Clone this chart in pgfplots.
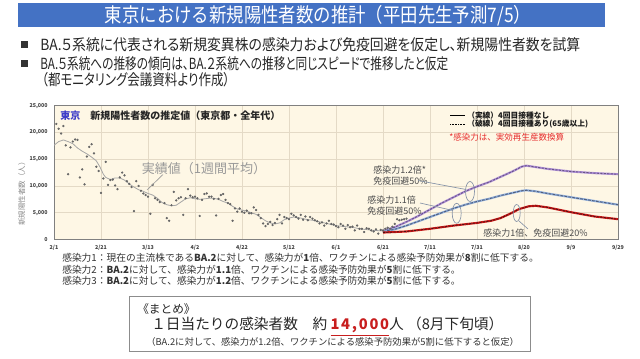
\documentclass[border=0pt]{standalone}
\usepackage{pgfplots}
\pgfplotsset{compat=1.18}
\usepackage{graphicx}
\usepackage{fontspec}
\setmainfont{Noto Sans CJK JP}
\newfontfamily\jpt[FakeStretch=0.87]{Noto Sans CJK JP}
\newfontfamily\jpp[RawFeature=+palt]{Noto Sans CJK JP}
\definecolor{barblue}{RGB}{68,114,196}
\definecolor{chartbg}{RGB}{254,247,229}
\definecolor{gridc}{RGB}{228,218,198}
\definecolor{purp}{RGB}{175,145,215}
\definecolor{purpd}{RGB}{105,85,135}
\definecolor{lblue}{RGB}{145,175,220}
\definecolor{lblued}{RGB}{80,95,125}
\definecolor{dred}{RGB}{205,25,25}
\definecolor{dredd}{RGB}{70,20,20}
\definecolor{anngray}{RGB}{135,148,168}
\definecolor{notered}{RGB}{230,45,45}
\definecolor{tokyoblue}{RGB}{60,60,200}
\definecolor{sumred}{RGB}{200,30,30}

\pgfplotstableread{
d v
1 21600
2 20700
3 19800
4 21200
5 17600
6 12200
7 17200
8 18300
9 18700
10 18600
11 11600
12 13100
13 10300
14 15500
15 17300
16 17800
17 16100
18 13600
19 12800
20 8700
21 11400
22 14500
23 10200
24 11100
25 11200
26 10100
27 9400
28 11600
29 12500
30 12000
31 10900
32 10400
33 9800
34 5300
35 10900
36 10000
37 9100
38 8600
39 8300
40 8000
41 4800
42 10200
43 7700
44 7400
45 7000
47 6800
48 4000
49 3500
50 6400
51 8900
52 7300
53 7700
54 7900
55 4600
56 7700
57 9400
58 8200
59 7900
60 8000
61 7700
62 4400
63 7400
64 8500
65 8600
66 8000
67 8000
68 7600
69 4500
70 7600
71 8300
72 8500
73 7400
74 6800
75 6600
76 3500
77 5800
78 5200
79 5800
80 5200
81 5000
82 5400
83 4900
84 4900
85 6000
86 5500
87 4600
88 4000
89 3000
90 2500
91 2900
92 3300
93 2700
94 3100
95 3800
96 4600
97 3000
98 4200
99 4000
100 3800
101 4800
102 4500
103 4200
104 3900
105 4600
106 3700
107 4300
108 3600
109 4200
110 3900
111 3600
112 3400
113 3000
114 3200
115 2600
116 3000
117 3500
118 2900
119 2800
120 2500
121 2300
122 2900
123 2600
124 2000
125 2700
126 2300
127 2400
128 1700
129 2600
130 2000
131 2000
132 1400
133 2100
134 2000
135 1700
136 1500
137 1900
138 1100
139 1800
140 1700
141 2000
142 2200
143 2000
144 2400
145 2900
146 3800
147 3600
148 3700
149 3800
150 3900
}\daily

\pgfplotstableread{
d v
0 17600
2 18300
4 18600
6 18300
8 17900
10 17100
12 16500
14 16000
16 15400
18 14700
19.5 13600
21 12200
22 11600
24 11200
26 11500
28 11500
30 11100
32 10400
34 9800
36 9300
38 9000
40 8600
42 8300
44 7700
46 6900
48 6500
50 6300
52 6400
54 7000
56 7600
58 7800
60 7600
62 7500
64 7600
66 7700
68 7700
70 7500
72 7100
74 6800
76 6200
78 5700
80 5500
82 5300
84 5000
86 4700
88 4100
90 3500
92 3100
94 2900
96 3100
98 3700
100 4000
102 4200
104 4100
106 3900
108 3700
110 3600
112 3400
114 3200
116 3000
118 2800
120 2600
122 2500
124 2400
126 2300
128 2200
130 2000
132 1900
134 1800
136 1700
138 1650
140 1600
}\movavg

\pgfplotstableread{
d v
140 1600
145 2300
150 3300
155 4400
160 5600
165 6800
170 7900
175 9000
180 9900
185 10700
190 11700
195 12700
199 13600
201 13800
204 13600
210 13200
220 12700
230 12400
240 12200
}\scenthree

\pgfplotstableread{
d v
140 1500
145 1900
150 2600
155 3400
160 4200
165 5000
170 5800
175 6500
180 7100
185 7600
190 8200
195 8700
199 9100
201 9200
205 9000
210 8600
220 7900
230 7200
240 6500
}\scentwo

\pgfplotstableread{
d v
140 1300
150 1500
160 2000
170 2600
180 3100
186 3500
190 4000
194 4800
198 5700
202 6200
205 6300
210 6000
220 5100
230 4300
240 3800
}\scenone

\begin{document}
\begin{tikzpicture}
\begin{scope}[x=0.75pt,y=-0.75pt]
\fill[white] (0,0) rectangle (640,359);
\path[use as bounding box] (0,0) rectangle (640,359);
% title bar
\fill[barblue] (18,3.5) rectangle (605,27.5);
\node[white,inner sep=0pt,font=\jpt\fontsize{15}{16}\selectfont] at (318,15.5) {東京における新規陽性者数の推計（平田先生予測7/5）};
% bullets
\fill[black!80] (21,40.8) rectangle (28,47.8);
\fill[black!80] (21,59.6) rectangle (28,66.6);
\node[anchor=west,inner sep=0pt,text=black!85,font=\jpp\fontsize{11.5}{12}\selectfont] at (40,44.5) {\resizebox{405pt}{\height}{BA.５系統に代表される新規変異株の感染力および免疫回避を仮定し、新規陽性者数を試算}};
\node[anchor=west,inner sep=0pt,text=black!85,font=\jpp\fontsize{11.5}{12}\selectfont] at (40,63.3) {\resizebox{306pt}{\height}{BA.５系統への推移の傾向は、BA.２系統への推移と同じスピードで推移したと仮定}};
\node[anchor=west,inner sep=0pt,text=black!85,font=\jpp\fontsize{11.5}{12}\selectfont] at (41.5,80) {\resizebox{141pt}{\height}{（都モニタリング会議資料より作成）}};
% y label
\node[rotate=90,inner sep=0pt,text=black!45,font=\fontsize{5.6}{6}\selectfont] at (21.7,192) {新規陽性者数（人）};
\end{scope}

\begin{axis}[
  at={(40.5pt,-179.625pt)}, anchor=south west,
  scale only axis, width=423pt, height=100.35pt,
  xmin=0, xmax=240, ymin=0, ymax=25000,
  axis background/.style={fill=chartbg},
  axis line style={draw=black!50, line width=0.6pt},
  grid=major, major grid style={draw=gridc, line width=0.4pt},
  major tick length=0pt,
  xtick={0,20,...,240},
  xticklabels={2/1,2/21,3/13,4/2,4/22,5/12,6/1,6/21,7/11,7/31,8/20,9/9,9/29},
  ytick={0,5000,10000,15000,20000,25000},
  scaled y ticks=false,
  /pgf/number format/assume math mode=true,
  /pgf/number format/1000 sep={,},
  tick label style={font=\bfseries\fontsize{4}{5}\selectfont, text=black!75, inner sep=0pt},
  xticklabel style={yshift=-4pt},
  yticklabel style={xshift=-4.5pt},
]
\addplot[only marks, mark=*, mark size=0.65pt, color=black!60] table[x=d,y=v] {\daily};
\addplot[black!35, line width=0.6pt] table[x=d,y=v] {\movavg};
\addplot[purp, line width=1.6pt] table[x=d,y=v] {\scenthree};
\addplot[purpd, line width=0.7pt, dash pattern=on 1.6pt off 1pt] table[x=d,y=v] {\scenthree};
\addplot[lblue, line width=1.6pt] table[x=d,y=v] {\scentwo};
\addplot[lblued, line width=0.7pt, dash pattern=on 2pt off 1pt] table[x=d,y=v] {\scentwo};
\addplot[dred, line width=1.6pt] table[x=d,y=v] {\scenone};
\addplot[dredd, line width=0.6pt, dash pattern=on 1.6pt off 1pt] table[x=d,y=v] {\scenone};
\end{axis}

\begin{scope}[x=0.75pt,y=-0.75pt]
% chart title
\node[anchor=west,inner sep=0pt,text=tokyoblue,font=\bfseries\fontsize{7.5}{8}\selectfont] at (60,116) {東京};
\node[anchor=west,inner sep=0pt,text=black!85,font=\bfseries\fontsize{7.5}{8}\selectfont] at (90,116) {新規陽性者数の推定値（東京都・全年代）};
\node[anchor=west,inner sep=0pt,text=black!40,font=\fontsize{9.75}{10}\selectfont] at (141.7,168.3) {実績値（1週間平均）};
\draw[black!40, line width=0.5pt] (163,174.5) -- (147,190);
% legend
\draw[black, line width=0.8pt] (450,115.5) -- (465,115.5);
\draw[black, line width=0.6pt, dash pattern=on 0.6pt off 0.6pt] (450,124) -- (465,124);
\node[anchor=west,inner sep=0pt,text=black!90,font=\bfseries\fontsize{5.8}{6}\selectfont] at (467,115.5) {（実線）4回目接種なし};
\node[anchor=west,inner sep=0pt,text=black!90,font=\bfseries\fontsize{5.8}{6}\selectfont] at (467,124) {（破線）4回目接種あり(65歳以上)};
\node[anchor=west,inner sep=0pt,text=notered,font=\fontsize{6.4}{7}\selectfont] at (449,137.3) {*感染力は、実効再生産数換算};
% annotations
\node[anchor=north west,align=left,inner sep=0pt,text=black!70,font=\fontsize{6.75}{8}\selectfont] at (373,166) {感染力1.2倍*\\免疫回避50\%};
\node[anchor=north west,align=left,inner sep=0pt,text=black!70,font=\fontsize{6.75}{8}\selectfont] at (367,196) {感染力1.1倍\\免疫回避50\%};
\node[anchor=west,inner sep=0pt,text=black!70,font=\fontsize{6.75}{8}\selectfont] at (483,232.7) {感染力1倍、免疫回避20\%};
\draw[anngray, line width=0.5pt] (418,180.5) -- (466,189.5);
\draw[anngray, line width=0.5pt] (470,191.5) ellipse [x radius=4.5, y radius=10];
\draw[anngray, line width=0.5pt] (420,203) -- (453,210.5);
\draw[anngray, line width=0.5pt] (456.7,213.3) ellipse [x radius=4.5, y radius=10];
\draw[anngray, line width=0.5pt] (516.7,213) ellipse [x radius=3.5, y radius=8.5];
\draw[anngray, line width=0.5pt] (519,221) -- (528,229);
% notes under chart
\node[anchor=west,inner sep=0pt,text=black!80,font=\fontsize{7.3}{8}\selectfont] at (62,257.5) {感染力1：現在の主流株である\textbf{BA.2}に対して、感染力が\textbf{1}倍、ワクチンによる感染予防効果が\textbf{8}割に低下する。};
\node[anchor=west,inner sep=0pt,text=black!80,font=\fontsize{7.3}{8}\selectfont] at (62,269.5) {感染力2：\textbf{BA.2}に対して、感染力が\textbf{1.1}倍、ワクチンによる感染予防効果が\textbf{5}割に低下する。};
\node[anchor=west,inner sep=0pt,text=black!80,font=\fontsize{7.3}{8}\selectfont] at (62,281) {感染力3：\textbf{BA.2}に対して、感染力が\textbf{1.2}倍、ワクチンによる感染予防効果が\textbf{5}割に低下する。};
% summary box
\draw[black!45, line width=0.6pt] (129,296) rectangle (530,351);
\node[anchor=west,inner sep=0pt,text=black!85,font=\fontsize{8.75}{9}\selectfont] at (137,309.5) {《まとめ》};
\node[anchor=west,inner sep=0pt,text=black!85,font=\fontsize{11}{12}\selectfont] at (151,326.5) {１日当たりの感染者数　約 {\color{sumred}\bfseries\underline{\addfontfeature{LetterSpace=12}14,000}}人 （8月下旬頃）};
\node[anchor=west,inner sep=0pt,text=black!80,font=\fontsize{7}{8}\selectfont] at (146,341.5) {（BA.2に対して、感染力が1.2倍、ワクチンによる感染予防効果が5割に低下すると仮定）};
\end{scope}
\end{tikzpicture}
\end{document}
